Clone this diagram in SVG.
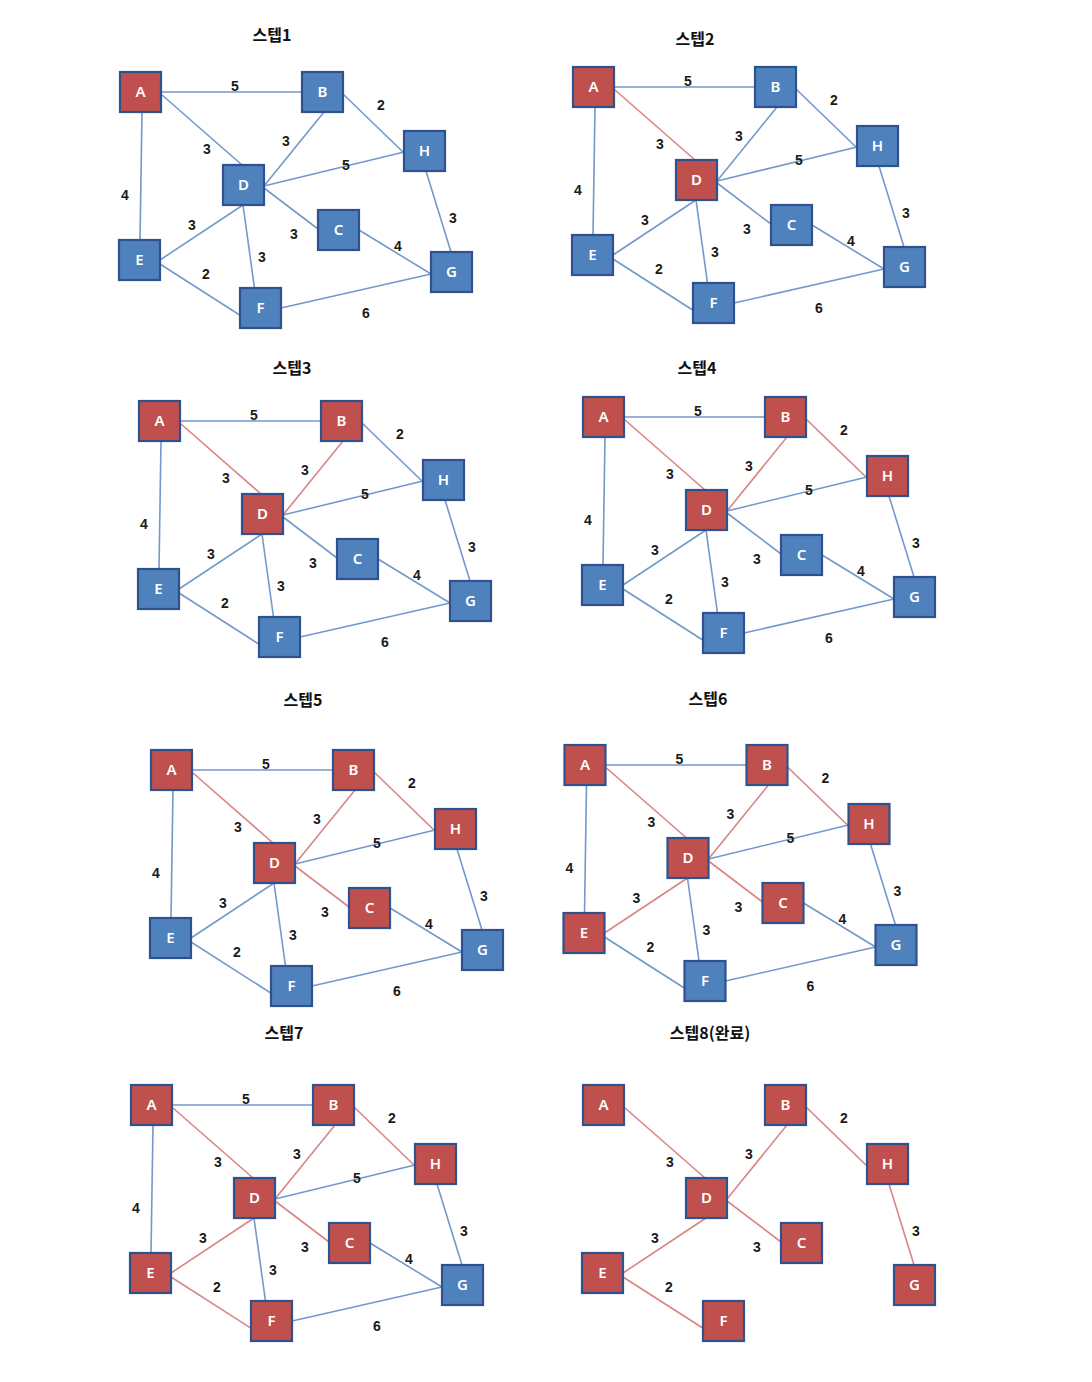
<svg xmlns="http://www.w3.org/2000/svg" width="1092" height="1382" viewBox="0 0 1092 1382">
<style>
.bg{fill:#ffffff}
.title{font-family:"Noto Sans CJK KR","Noto Sans",sans-serif;font-weight:bold;font-size:16px;fill:#111;text-anchor:middle}
.e line{stroke:#7399cc;stroke-width:1.6;fill:none}
.e line.r{stroke:#d98584}
.lbl{font-family:"Liberation Sans",Arial,sans-serif;font-weight:bold;font-size:14px;fill:#1a1a1a;text-anchor:middle}
.n rect{stroke:#2f528f;stroke-width:2.2;width:41px;height:40px}
.nb rect{fill:#4f81bd}
.nr rect{fill:#c0504d}
.n text{font-family:"Noto Sans","Liberation Sans",sans-serif;font-size:15px;font-weight:600;fill:#ffffff;text-anchor:middle}
</style>
<rect class="bg" x="0" y="0" width="1092" height="1382"/>

<!-- Titles -->
<g id="titles">
<text class="title" x="272" y="41">스텝1</text>
<text class="title" x="695" y="45">스텝2</text>
<text class="title" x="292" y="374">스텝3</text>
<text class="title" x="697" y="374">스텝4</text>
<text class="title" x="303" y="706">스텝5</text>
<text class="title" x="708" y="705">스텝6</text>
<text class="title" x="284" y="1039">스텝7</text>
<text class="title" x="710" y="1039">스텝8(완료)</text>
</g>

<!-- Panel 1 -->
<g id="panel1" transform="translate(0,0)">
<g id="p1-edges" class="e">
<line x1="161" y1="92" x2="302" y2="92"/>
<line x1="162" y1="95" x2="242" y2="165"/>
<line x1="142" y1="112" x2="140" y2="240"/>
<line x1="343" y1="94" x2="404" y2="153"/>
<line x1="324" y1="112" x2="264" y2="186"/>
<line x1="264" y1="186" x2="404" y2="152"/>
<line x1="264" y1="188" x2="318" y2="229"/>
<line x1="243" y1="205" x2="160" y2="260"/>
<line x1="243" y1="205" x2="260" y2="328"/>
<line x1="160" y1="264" x2="260" y2="328"/>
<line x1="359" y1="230" x2="431" y2="274"/>
<line x1="426" y1="171" x2="451" y2="252"/>
<line x1="281" y1="308" x2="431" y2="274"/>
</g>
<g id="p1-labels">
<text class="lbl" x="235" y="91">5</text>
<text class="lbl" x="207" y="154">3</text>
<text class="lbl" x="125" y="200">4</text>
<text class="lbl" x="381" y="110">2</text>
<text class="lbl" x="286" y="146">3</text>
<text class="lbl" x="346" y="170">5</text>
<text class="lbl" x="294" y="239">3</text>
<text class="lbl" x="192" y="230">3</text>
<text class="lbl" x="262" y="262">3</text>
<text class="lbl" x="206" y="279">2</text>
<text class="lbl" x="398" y="251">4</text>
<text class="lbl" x="453" y="223">3</text>
<text class="lbl" x="366" y="318">6</text>
</g>
<g id="p1-A" class="n nr"><rect x="120" y="72"/><text x="140.5" y="97">A</text></g>
<g id="p1-B" class="n nb"><rect x="302" y="72"/><text x="322.5" y="97">B</text></g>
<g id="p1-H" class="n nb"><rect x="404" y="131"/><text x="424.5" y="156">H</text></g>
<g id="p1-D" class="n nb"><rect x="223" y="165"/><text x="243.5" y="190">D</text></g>
<g id="p1-C" class="n nb"><rect x="318" y="210"/><text x="338.5" y="235">C</text></g>
<g id="p1-E" class="n nb"><rect x="119" y="240"/><text x="139.5" y="265">E</text></g>
<g id="p1-G" class="n nb"><rect x="431" y="252"/><text x="451.5" y="277">G</text></g>
<g id="p1-F" class="n nb"><rect x="240" y="288"/><text x="260.5" y="313">F</text></g>
</g>

<!-- Panel 2 -->
<g id="panel2" transform="translate(453,-5)">
<g id="p2-edges" class="e">
<line x1="161" y1="92" x2="302" y2="92"/>
<line class="r" x1="162" y1="95" x2="242" y2="165"/>
<line x1="142" y1="112" x2="140" y2="240"/>
<line x1="343" y1="94" x2="404" y2="153"/>
<line x1="324" y1="112" x2="264" y2="186"/>
<line x1="264" y1="186" x2="404" y2="152"/>
<line x1="264" y1="188" x2="318" y2="229"/>
<line x1="243" y1="205" x2="160" y2="260"/>
<line x1="243" y1="205" x2="260" y2="328"/>
<line x1="160" y1="264" x2="260" y2="328"/>
<line x1="359" y1="230" x2="431" y2="274"/>
<line x1="426" y1="171" x2="451" y2="252"/>
<line x1="281" y1="308" x2="431" y2="274"/>
</g>
<g id="p2-labels">
<text class="lbl" x="235" y="91">5</text>
<text class="lbl" x="207" y="154">3</text>
<text class="lbl" x="125" y="200">4</text>
<text class="lbl" x="381" y="110">2</text>
<text class="lbl" x="286" y="146">3</text>
<text class="lbl" x="346" y="170">5</text>
<text class="lbl" x="294" y="239">3</text>
<text class="lbl" x="192" y="230">3</text>
<text class="lbl" x="262" y="262">3</text>
<text class="lbl" x="206" y="279">2</text>
<text class="lbl" x="398" y="251">4</text>
<text class="lbl" x="453" y="223">3</text>
<text class="lbl" x="366" y="318">6</text>
</g>
<g id="p2-A" class="n nr"><rect x="120" y="72"/><text x="140.5" y="97">A</text></g>
<g id="p2-B" class="n nb"><rect x="302" y="72"/><text x="322.5" y="97">B</text></g>
<g id="p2-H" class="n nb"><rect x="404" y="131"/><text x="424.5" y="156">H</text></g>
<g id="p2-D" class="n nr"><rect x="223" y="165"/><text x="243.5" y="190">D</text></g>
<g id="p2-C" class="n nb"><rect x="318" y="210"/><text x="338.5" y="235">C</text></g>
<g id="p2-E" class="n nb"><rect x="119" y="240"/><text x="139.5" y="265">E</text></g>
<g id="p2-G" class="n nb"><rect x="431" y="252"/><text x="451.5" y="277">G</text></g>
<g id="p2-F" class="n nb"><rect x="240" y="288"/><text x="260.5" y="313">F</text></g>
</g>

<!-- Panel 3 -->
<g id="panel3" transform="translate(19,329)">
<g id="p3-edges" class="e">
<line x1="161" y1="92" x2="302" y2="92"/>
<line class="r" x1="162" y1="95" x2="242" y2="165"/>
<line x1="142" y1="112" x2="140" y2="240"/>
<line x1="343" y1="94" x2="404" y2="153"/>
<line class="r" x1="324" y1="112" x2="264" y2="186"/>
<line x1="264" y1="186" x2="404" y2="152"/>
<line x1="264" y1="188" x2="318" y2="229"/>
<line x1="243" y1="205" x2="160" y2="260"/>
<line x1="243" y1="205" x2="260" y2="328"/>
<line x1="160" y1="264" x2="260" y2="328"/>
<line x1="359" y1="230" x2="431" y2="274"/>
<line x1="426" y1="171" x2="451" y2="252"/>
<line x1="281" y1="308" x2="431" y2="274"/>
</g>
<g id="p3-labels">
<text class="lbl" x="235" y="91">5</text>
<text class="lbl" x="207" y="154">3</text>
<text class="lbl" x="125" y="200">4</text>
<text class="lbl" x="381" y="110">2</text>
<text class="lbl" x="286" y="146">3</text>
<text class="lbl" x="346" y="170">5</text>
<text class="lbl" x="294" y="239">3</text>
<text class="lbl" x="192" y="230">3</text>
<text class="lbl" x="262" y="262">3</text>
<text class="lbl" x="206" y="279">2</text>
<text class="lbl" x="398" y="251">4</text>
<text class="lbl" x="453" y="223">3</text>
<text class="lbl" x="366" y="318">6</text>
</g>
<g id="p3-A" class="n nr"><rect x="120" y="72"/><text x="140.5" y="97">A</text></g>
<g id="p3-B" class="n nr"><rect x="302" y="72"/><text x="322.5" y="97">B</text></g>
<g id="p3-H" class="n nb"><rect x="404" y="131"/><text x="424.5" y="156">H</text></g>
<g id="p3-D" class="n nr"><rect x="223" y="165"/><text x="243.5" y="190">D</text></g>
<g id="p3-C" class="n nb"><rect x="318" y="210"/><text x="338.5" y="235">C</text></g>
<g id="p3-E" class="n nb"><rect x="119" y="240"/><text x="139.5" y="265">E</text></g>
<g id="p3-G" class="n nb"><rect x="431" y="252"/><text x="451.5" y="277">G</text></g>
<g id="p3-F" class="n nb"><rect x="240" y="288"/><text x="260.5" y="313">F</text></g>
</g>

<!-- Panel 4 -->
<g id="panel4" transform="translate(463,325)">
<g id="p4-edges" class="e">
<line x1="161" y1="92" x2="302" y2="92"/>
<line class="r" x1="162" y1="95" x2="242" y2="165"/>
<line x1="142" y1="112" x2="140" y2="240"/>
<line class="r" x1="343" y1="94" x2="404" y2="153"/>
<line class="r" x1="324" y1="112" x2="264" y2="186"/>
<line x1="264" y1="186" x2="404" y2="152"/>
<line x1="264" y1="188" x2="318" y2="229"/>
<line x1="243" y1="205" x2="160" y2="260"/>
<line x1="243" y1="205" x2="260" y2="328"/>
<line x1="160" y1="264" x2="260" y2="328"/>
<line x1="359" y1="230" x2="431" y2="274"/>
<line x1="426" y1="171" x2="451" y2="252"/>
<line x1="281" y1="308" x2="431" y2="274"/>
</g>
<g id="p4-labels">
<text class="lbl" x="235" y="91">5</text>
<text class="lbl" x="207" y="154">3</text>
<text class="lbl" x="125" y="200">4</text>
<text class="lbl" x="381" y="110">2</text>
<text class="lbl" x="286" y="146">3</text>
<text class="lbl" x="346" y="170">5</text>
<text class="lbl" x="294" y="239">3</text>
<text class="lbl" x="192" y="230">3</text>
<text class="lbl" x="262" y="262">3</text>
<text class="lbl" x="206" y="279">2</text>
<text class="lbl" x="398" y="251">4</text>
<text class="lbl" x="453" y="223">3</text>
<text class="lbl" x="366" y="318">6</text>
</g>
<g id="p4-A" class="n nr"><rect x="120" y="72"/><text x="140.5" y="97">A</text></g>
<g id="p4-B" class="n nr"><rect x="302" y="72"/><text x="322.5" y="97">B</text></g>
<g id="p4-H" class="n nr"><rect x="404" y="131"/><text x="424.5" y="156">H</text></g>
<g id="p4-D" class="n nr"><rect x="223" y="165"/><text x="243.5" y="190">D</text></g>
<g id="p4-C" class="n nb"><rect x="318" y="210"/><text x="338.5" y="235">C</text></g>
<g id="p4-E" class="n nb"><rect x="119" y="240"/><text x="139.5" y="265">E</text></g>
<g id="p4-G" class="n nb"><rect x="431" y="252"/><text x="451.5" y="277">G</text></g>
<g id="p4-F" class="n nb"><rect x="240" y="288"/><text x="260.5" y="313">F</text></g>
</g>

<!-- Panel 5 -->
<g id="panel5" transform="translate(31,678)">
<g id="p5-edges" class="e">
<line x1="161" y1="92" x2="302" y2="92"/>
<line class="r" x1="162" y1="95" x2="242" y2="165"/>
<line x1="142" y1="112" x2="140" y2="240"/>
<line class="r" x1="343" y1="94" x2="404" y2="153"/>
<line class="r" x1="324" y1="112" x2="264" y2="186"/>
<line x1="264" y1="186" x2="404" y2="152"/>
<line class="r" x1="264" y1="188" x2="318" y2="229"/>
<line x1="243" y1="205" x2="160" y2="260"/>
<line x1="243" y1="205" x2="260" y2="328"/>
<line x1="160" y1="264" x2="260" y2="328"/>
<line x1="359" y1="230" x2="431" y2="274"/>
<line x1="426" y1="171" x2="451" y2="252"/>
<line x1="281" y1="308" x2="431" y2="274"/>
</g>
<g id="p5-labels">
<text class="lbl" x="235" y="91">5</text>
<text class="lbl" x="207" y="154">3</text>
<text class="lbl" x="125" y="200">4</text>
<text class="lbl" x="381" y="110">2</text>
<text class="lbl" x="286" y="146">3</text>
<text class="lbl" x="346" y="170">5</text>
<text class="lbl" x="294" y="239">3</text>
<text class="lbl" x="192" y="230">3</text>
<text class="lbl" x="262" y="262">3</text>
<text class="lbl" x="206" y="279">2</text>
<text class="lbl" x="398" y="251">4</text>
<text class="lbl" x="453" y="223">3</text>
<text class="lbl" x="366" y="318">6</text>
</g>
<g id="p5-A" class="n nr"><rect x="120" y="72"/><text x="140.5" y="97">A</text></g>
<g id="p5-B" class="n nr"><rect x="302" y="72"/><text x="322.5" y="97">B</text></g>
<g id="p5-H" class="n nr"><rect x="404" y="131"/><text x="424.5" y="156">H</text></g>
<g id="p5-D" class="n nr"><rect x="223" y="165"/><text x="243.5" y="190">D</text></g>
<g id="p5-C" class="n nr"><rect x="318" y="210"/><text x="338.5" y="235">C</text></g>
<g id="p5-E" class="n nb"><rect x="119" y="240"/><text x="139.5" y="265">E</text></g>
<g id="p5-G" class="n nb"><rect x="431" y="252"/><text x="451.5" y="277">G</text></g>
<g id="p5-F" class="n nb"><rect x="240" y="288"/><text x="260.5" y="313">F</text></g>
</g>

<!-- Panel 6 -->
<g id="panel6" transform="translate(444.5,673)">
<g id="p6-edges" class="e">
<line x1="161" y1="92" x2="302" y2="92"/>
<line class="r" x1="162" y1="95" x2="242" y2="165"/>
<line x1="142" y1="112" x2="140" y2="240"/>
<line class="r" x1="343" y1="94" x2="404" y2="153"/>
<line class="r" x1="324" y1="112" x2="264" y2="186"/>
<line x1="264" y1="186" x2="404" y2="152"/>
<line class="r" x1="264" y1="188" x2="318" y2="229"/>
<line class="r" x1="243" y1="205" x2="160" y2="260"/>
<line x1="243" y1="205" x2="260" y2="328"/>
<line x1="160" y1="264" x2="260" y2="328"/>
<line x1="359" y1="230" x2="431" y2="274"/>
<line x1="426" y1="171" x2="451" y2="252"/>
<line x1="281" y1="308" x2="431" y2="274"/>
</g>
<g id="p6-labels">
<text class="lbl" x="235" y="91">5</text>
<text class="lbl" x="207" y="154">3</text>
<text class="lbl" x="125" y="200">4</text>
<text class="lbl" x="381" y="110">2</text>
<text class="lbl" x="286" y="146">3</text>
<text class="lbl" x="346" y="170">5</text>
<text class="lbl" x="294" y="239">3</text>
<text class="lbl" x="192" y="230">3</text>
<text class="lbl" x="262" y="262">3</text>
<text class="lbl" x="206" y="279">2</text>
<text class="lbl" x="398" y="251">4</text>
<text class="lbl" x="453" y="223">3</text>
<text class="lbl" x="366" y="318">6</text>
</g>
<g id="p6-A" class="n nr"><rect x="120" y="72"/><text x="140.5" y="97">A</text></g>
<g id="p6-B" class="n nr"><rect x="302" y="72"/><text x="322.5" y="97">B</text></g>
<g id="p6-H" class="n nr"><rect x="404" y="131"/><text x="424.5" y="156">H</text></g>
<g id="p6-D" class="n nr"><rect x="223" y="165"/><text x="243.5" y="190">D</text></g>
<g id="p6-C" class="n nr"><rect x="318" y="210"/><text x="338.5" y="235">C</text></g>
<g id="p6-E" class="n nr"><rect x="119" y="240"/><text x="139.5" y="265">E</text></g>
<g id="p6-G" class="n nb"><rect x="431" y="252"/><text x="451.5" y="277">G</text></g>
<g id="p6-F" class="n nb"><rect x="240" y="288"/><text x="260.5" y="313">F</text></g>
</g>

<!-- Panel 7 -->
<g id="panel7" transform="translate(11,1013)">
<g id="p7-edges" class="e">
<line x1="161" y1="92" x2="302" y2="92"/>
<line class="r" x1="162" y1="95" x2="242" y2="165"/>
<line x1="142" y1="112" x2="140" y2="240"/>
<line class="r" x1="343" y1="94" x2="404" y2="153"/>
<line class="r" x1="324" y1="112" x2="264" y2="186"/>
<line x1="264" y1="186" x2="404" y2="152"/>
<line class="r" x1="264" y1="188" x2="318" y2="229"/>
<line class="r" x1="243" y1="205" x2="160" y2="260"/>
<line x1="243" y1="205" x2="260" y2="328"/>
<line class="r" x1="160" y1="264" x2="260" y2="328"/>
<line x1="359" y1="230" x2="431" y2="274"/>
<line x1="426" y1="171" x2="451" y2="252"/>
<line x1="281" y1="308" x2="431" y2="274"/>
</g>
<g id="p7-labels">
<text class="lbl" x="235" y="91">5</text>
<text class="lbl" x="207" y="154">3</text>
<text class="lbl" x="125" y="200">4</text>
<text class="lbl" x="381" y="110">2</text>
<text class="lbl" x="286" y="146">3</text>
<text class="lbl" x="346" y="170">5</text>
<text class="lbl" x="294" y="239">3</text>
<text class="lbl" x="192" y="230">3</text>
<text class="lbl" x="262" y="262">3</text>
<text class="lbl" x="206" y="279">2</text>
<text class="lbl" x="398" y="251">4</text>
<text class="lbl" x="453" y="223">3</text>
<text class="lbl" x="366" y="318">6</text>
</g>
<g id="p7-A" class="n nr"><rect x="120" y="72"/><text x="140.5" y="97">A</text></g>
<g id="p7-B" class="n nr"><rect x="302" y="72"/><text x="322.5" y="97">B</text></g>
<g id="p7-H" class="n nr"><rect x="404" y="131"/><text x="424.5" y="156">H</text></g>
<g id="p7-D" class="n nr"><rect x="223" y="165"/><text x="243.5" y="190">D</text></g>
<g id="p7-C" class="n nr"><rect x="318" y="210"/><text x="338.5" y="235">C</text></g>
<g id="p7-E" class="n nr"><rect x="119" y="240"/><text x="139.5" y="265">E</text></g>
<g id="p7-G" class="n nb"><rect x="431" y="252"/><text x="451.5" y="277">G</text></g>
<g id="p7-F" class="n nr"><rect x="240" y="288"/><text x="260.5" y="313">F</text></g>
</g>

<!-- Panel 8 -->
<g id="panel8" transform="translate(463,1013)">
<g id="p8-edges" class="e">
<line class="r" x1="162" y1="95" x2="242" y2="165"/>
<line class="r" x1="343" y1="94" x2="404" y2="153"/>
<line class="r" x1="324" y1="112" x2="264" y2="186"/>
<line class="r" x1="264" y1="188" x2="318" y2="229"/>
<line class="r" x1="243" y1="205" x2="160" y2="260"/>
<line class="r" x1="160" y1="264" x2="260" y2="328"/>
<line class="r" x1="426" y1="171" x2="451" y2="252"/>
</g>
<g id="p8-labels">
<text class="lbl" x="207" y="154">3</text>
<text class="lbl" x="381" y="110">2</text>
<text class="lbl" x="286" y="146">3</text>
<text class="lbl" x="294" y="239">3</text>
<text class="lbl" x="192" y="230">3</text>
<text class="lbl" x="206" y="279">2</text>
<text class="lbl" x="453" y="223">3</text>
</g>
<g id="p8-A" class="n nr"><rect x="120" y="72"/><text x="140.5" y="97">A</text></g>
<g id="p8-B" class="n nr"><rect x="302" y="72"/><text x="322.5" y="97">B</text></g>
<g id="p8-H" class="n nr"><rect x="404" y="131"/><text x="424.5" y="156">H</text></g>
<g id="p8-D" class="n nr"><rect x="223" y="165"/><text x="243.5" y="190">D</text></g>
<g id="p8-C" class="n nr"><rect x="318" y="210"/><text x="338.5" y="235">C</text></g>
<g id="p8-E" class="n nr"><rect x="119" y="240"/><text x="139.5" y="265">E</text></g>
<g id="p8-G" class="n nr"><rect x="431" y="252"/><text x="451.5" y="277">G</text></g>
<g id="p8-F" class="n nr"><rect x="240" y="288"/><text x="260.5" y="313">F</text></g>
</g>
</svg>
